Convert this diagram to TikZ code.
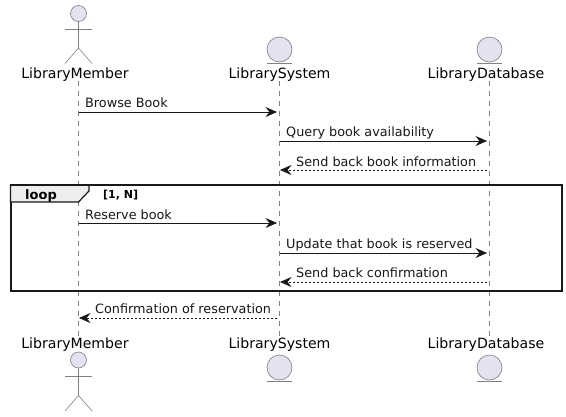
\documentclass[tikz,border=0pt]{standalone}
\usepackage{fontspec}
\setmainfont{DejaVu Sans}
\usetikzlibrary{arrows.meta}
\definecolor{umlfill}{HTML}{E2E2F0}
\definecolor{umlline}{HTML}{181818}
\definecolor{umlgrey}{HTML}{808080}
\definecolor{tabfill}{HTML}{EEEEEE}

\begin{document}
\begin{tikzpicture}[x=1pt,y=-1pt,
  partlabel/.style={inner sep=0pt,anchor=base,font=\fontsize{14.1}{16}\selectfont,text=black},
  msglabel/.style={inner sep=0pt,anchor=base west,font=\fontsize{12.8}{15}\selectfont,text=umlline},
  lifeline/.style={draw=umlgrey,line width=0.6pt,dash pattern=on 5pt off 5pt},
  figure/.style={draw=umlgrey,line width=0.6pt},
  head/.style={circle,draw=umlgrey,fill=umlfill,line width=0.6pt,inner sep=0pt,minimum size=16pt},
  ball/.style={circle,draw=umlgrey,fill=umlfill,line width=0.6pt,inner sep=0pt,minimum size=25pt},
  msg/.style={draw=umlline,line width=0.8pt,shorten >=2.5pt,-{Stealth[length=11.5pt,width=10pt,inset=4pt]}},
  reply/.style={draw=umlline,line width=0.6pt,dash pattern=on 2pt off 2pt,shorten <=2.5pt,shorten >=0.5pt,
    -{Stealth[length=11.5pt,width=10pt,inset=4pt]}},
]
  \useasboundingbox (0,0) rectangle (566,416);
  \fill[white] (0,0) rectangle (566,416); % page
  \node[partlabel] (memberTop) at (75,78) {LibraryMember}; % top names
  \node[partlabel] (systemTop) at (279.5,78) {LibrarySystem};
  \node[partlabel] (databaseTop) at (486,78) {LibraryDatabase};
  \node[partlabel] (memberBottom) at (75,348) {LibraryMember}; % bottom names
  \node[partlabel] (systemBottom) at (279.5,348) {LibrarySystem};
  \node[partlabel] (databaseBottom) at (486,348) {LibraryDatabase};
  \coordinate (memberX) at (78.5,0); % lifeline positions
  \coordinate (systemX) at (279.5,0);
  \coordinate (databaseX) at (489.5,0);
  \draw[lifeline] (memberX |- memberTop.south) -- (memberX |- memberBottom.north); % lifelines
  \draw[lifeline] (systemX |- systemTop.south) -- (systemX |- systemBottom.north);
  \draw[lifeline] (databaseX |- databaseTop.south) -- (databaseX |- databaseBottom.north);

  \node[head] (memberHeadTop) at (78.5,13.5) {}; % actor on top
  \draw[figure] (memberHeadTop) -- (78.5,48) -- (65,63.5);
  \draw[figure] (78.5,48) -- (92,63.5);
  \draw[figure] (65,29) -- (92,29);
  \node[head] (memberHeadBottom) at (78.5,360) {}; % actor below
  \draw[figure] (memberHeadBottom) -- (78.5,395.5) -- (65,411);
  \draw[figure] (78.5,395.5) -- (92,411);
  \draw[figure] (65,376) -- (92,376);

  \node[ball] (systemBallTop) at (279.5,49.5) {}; % entity circles
  \node[ball] (databaseBallTop) at (489.5,49.5) {};
  \node[ball] (systemBallBottom) at (279.5,367.5) {};
  \node[ball] (databaseBallBottom) at (489.5,367.5) {};
  \draw[figure] (267,63.5) -- (292,63.5); % entity underlines
  \draw[figure] (477,63.5) -- (502,63.5);
  \draw[figure] (267,381.5) -- (292,381.5);
  \draw[figure] (477,381.5) -- (502,381.5);

  \draw[umlline,line width=2pt] (10.5,185) rectangle (562,290.5); % loop frame
  \draw[umlline,line width=1.2pt,fill=tabfill] (10.5,185) -- (89,185) -- (89,191) -- (78.5,202) -- (10.5,202) -- cycle; % loop tab
  \draw[umlline,line width=2pt] (10.5,185) -- (89,185);
  \node[inner sep=0pt,anchor=base west,font=\fontsize{13}{15}\selectfont\bfseries] (loopLabel) at (25,199.5) {loop};
  \node[inner sep=0pt,anchor=base west,font=\fontsize{11}{13}\selectfont\bfseries] (loopGuard) at (103,198.5) {[1, N]};

  \node[msglabel] (browseLabel) at (85,107.5) {Browse Book}; % messages
  \draw[msg] (memberX |- 0,112) -- (systemX |- 0,112);
  \node[msglabel] (queryLabel) at (286,136.5) {Query book availability};
  \draw[msg] (systemX |- 0,141) -- (databaseX |- 0,141);
  \node[msglabel] (infoLabel) at (296,166) {Send back book information};
  \draw[reply] (databaseX |- 0,170) -- (systemX |- 0,170);
  \node[msglabel] (reserveLabel) at (85,219) {Reserve book};
  \draw[msg] (memberX |- 0,223) -- (systemX |- 0,223);
  \node[msglabel] (updateLabel) at (286,248) {Update that book is reserved};
  \draw[msg] (systemX |- 0,253) -- (databaseX |- 0,253);
  \node[msglabel] (confirmLabel) at (296,277) {Send back confirmation};
  \draw[reply] (databaseX |- 0,282) -- (systemX |- 0,282);
  \node[msglabel] (reservationLabel) at (95,313) {Confirmation of reservation};
  \draw[reply] (systemX |- 0,318) -- (memberX |- 0,318);
\end{tikzpicture}
\end{document}
